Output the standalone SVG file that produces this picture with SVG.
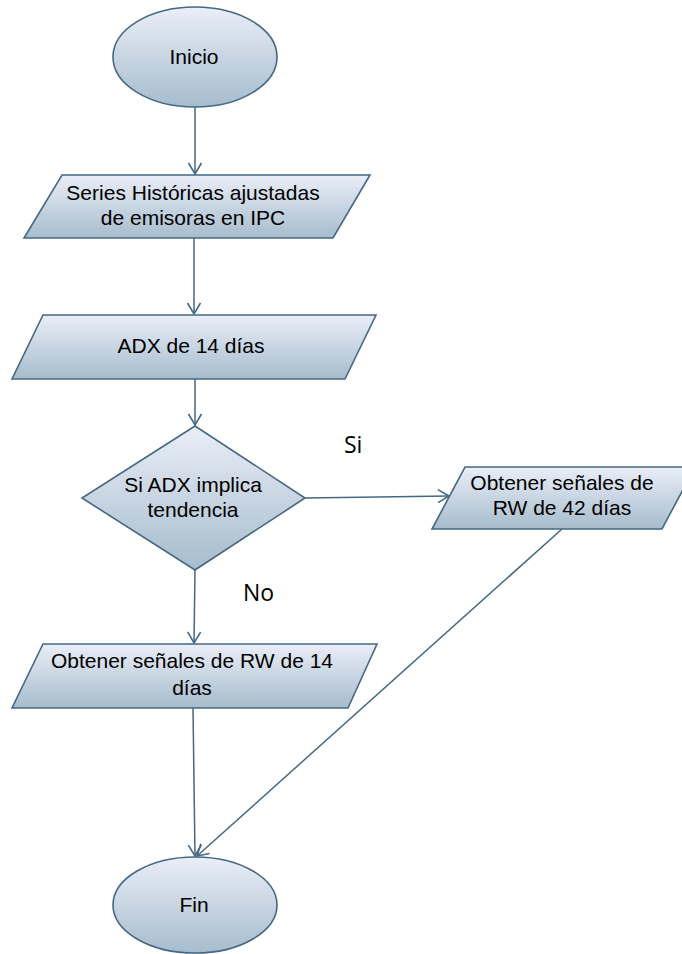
<svg xmlns="http://www.w3.org/2000/svg" width="682" height="954" viewBox="0 0 682 954">
<defs>
<linearGradient id="g" x1="0" y1="0" x2="0" y2="1">
<stop offset="0" stop-color="#eaeef7"/>
<stop offset="1" stop-color="#a6bccd"/>
</linearGradient>
<marker id="arr" markerUnits="userSpaceOnUse" markerWidth="24" markerHeight="24" viewBox="-14 -12 16 24" refX="0" refY="0" orient="auto">
<path d="M-11,-6.5 L0,0 L-11,6.5" fill="none" stroke="#456883" stroke-width="1.6"/>
</marker>
</defs>
<style>
.s{fill:url(#g);stroke:#456883;stroke-width:1.6}
.t{font-family:"Liberation Sans",Arial,sans-serif;font-size:21px;fill:#000;text-anchor:middle}
.l{font-family:"Open Sans","Noto Sans",sans-serif;font-size:23px;fill:#000}
.c{fill:none;stroke:#456883;stroke-width:1.5}
</style>
<rect width="682" height="954" fill="#fff"/>
<g id="connectors">
<line class="c" x1="195" y1="107" x2="195" y2="174" marker-end="url(#arr)"/>
<line class="c" x1="194" y1="238" x2="194" y2="314" marker-end="url(#arr)"/>
<line class="c" x1="195" y1="379" x2="195" y2="425" marker-end="url(#arr)"/>
<line class="c" x1="305" y1="498" x2="449" y2="496" marker-end="url(#arr)"/>
<line class="c" x1="195" y1="570" x2="194" y2="643" marker-end="url(#arr)"/>
<line class="c" x1="193" y1="708" x2="195" y2="856" marker-end="url(#arr)"/>
<line class="c" x1="562" y1="529" x2="197" y2="856" marker-end="url(#arr)"/>
</g>
<g id="inicio">
<ellipse class="s" cx="195" cy="57" rx="82" ry="50"/>
<text class="t" x="194" y="64">Inicio</text>
</g>
<g id="series">
<polygon class="s" points="62,175 370,175 333,238 24,238"/>
<text class="t" x="193" y="200">Series Históricas ajustadas</text>
<text class="t" x="193" y="225">de emisoras en IPC</text>
</g>
<g id="adx">
<polygon class="s" points="43,315 376,315 345,379 12,379"/>
<text class="t" x="191" y="353">ADX de 14 días</text>
</g>
<g id="decision">
<polygon class="s" points="195,426 305,498 195,570 82,498"/>
<text class="t" x="193" y="492">Si ADX implica</text>
<text class="t" x="193" y="517">tendencia</text>
</g>
<g id="rw42">
<polygon class="s" points="465,467 695,467 662,529 432,529"/>
<text class="t" x="562" y="490">Obtener señales de</text>
<text class="t" x="562" y="515">RW de 42 días</text>
</g>
<g id="rw14">
<polygon class="s" points="43,644 377,644 348,708 12,708"/>
<text class="t" x="192" y="668">Obtener señales de RW de 14</text>
<text class="t" x="192" y="695">días</text>
</g>
<g id="fin">
<ellipse class="s" cx="195" cy="905" rx="82" ry="48"/>
<text class="t" x="194" y="912">Fin</text>
</g>
<g id="labels">
<text class="l" x="344" y="453">Si</text>
<text class="l" x="243" y="601">No</text>
</g>
</svg>
